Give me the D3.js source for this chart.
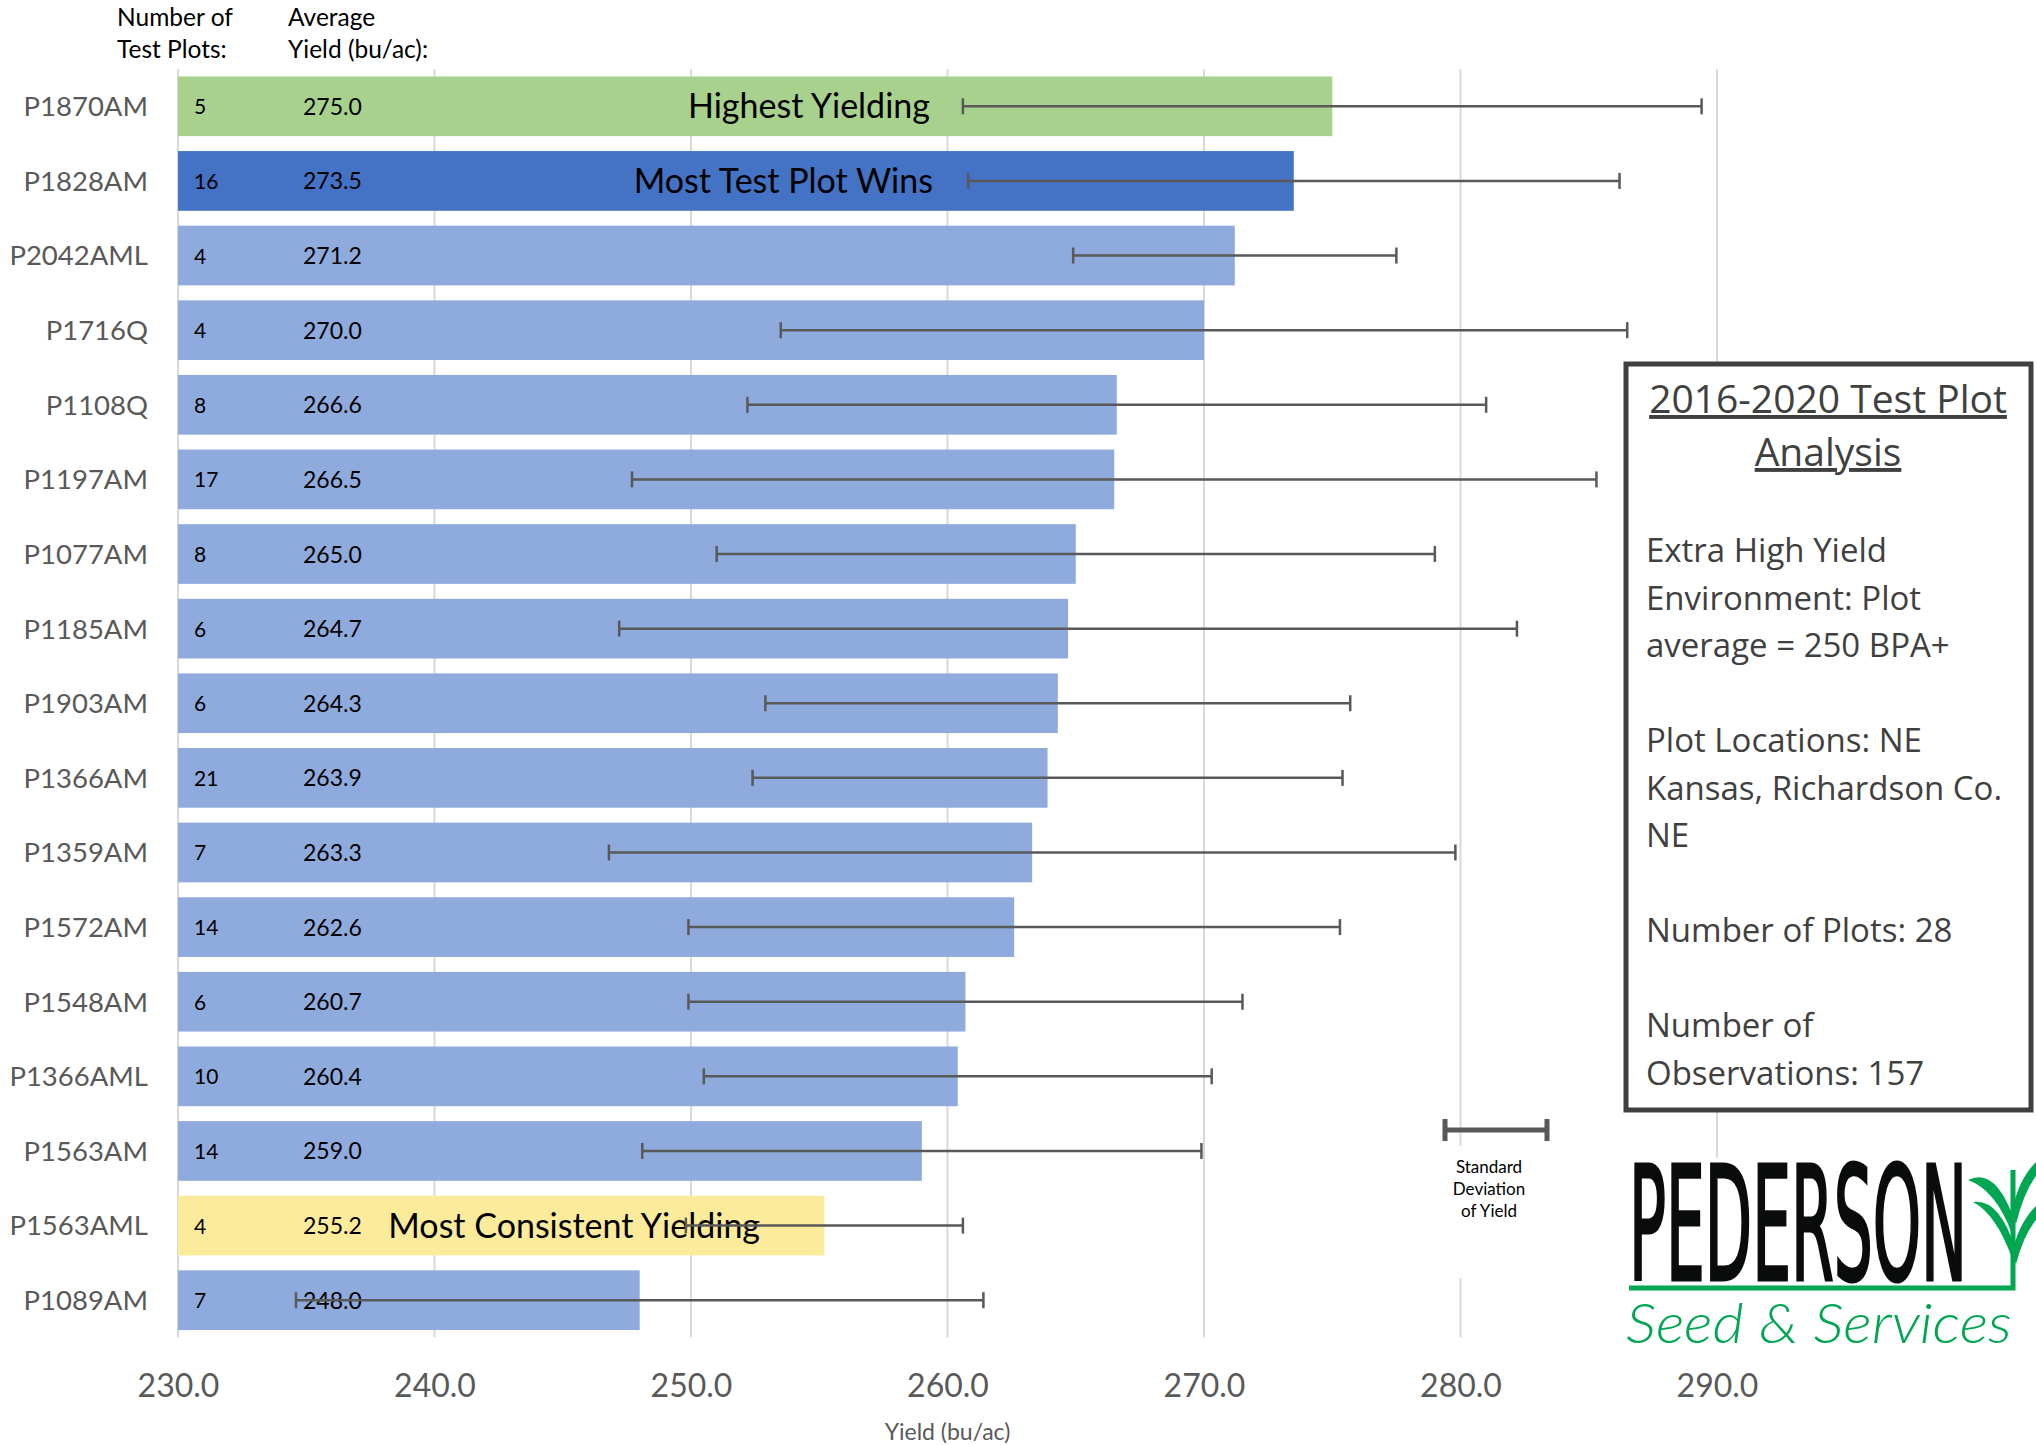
<!DOCTYPE html>
<html>
<head>
<meta charset="utf-8">
<script src="https://cdn.jsdelivr.net/npm/d3@7"></script>
<style>
  html, body { margin: 0; padding: 0; background: #fff; }
  svg { display: block; }
</style>
</head>
<body>
<svg id="chart" width="2036" height="1445"></svg>
<script>
// Data
const hybrids = ['P1870AM', 'P1828AM', 'P2042AML', 'P1716Q', 'P1108Q', 'P1197AM', 'P1077AM', 'P1185AM',
    'P1903AM', 'P1366AM', 'P1359AM', 'P1572AM', 'P1548AM', 'P1366AML', 'P1563AM', 'P1563AML', 'P1089AM'];
const testPlots = [5, 16, 4, 4, 8, 17, 8, 6, 6, 21, 7, 14, 6, 10, 14, 4, 7];
const avgYield = [275.0, 273.5, 271.2, 270.0, 266.6, 266.5, 265.0, 264.7, 264.3, 263.9, 263.3, 262.6, 260.7, 260.4, 259.0, 255.2, 248.0];
const stdDev = [14.4, 12.7, 6.3, 16.5, 14.4, 18.8, 14.0, 17.5, 11.4, 11.5, 16.5, 12.7, 10.8, 9.9, 10.9, 5.4, 13.4];
const groups = ['highest', 'wins', 'other', 'other', 'other', 'other', 'other', 'other',
    'other', 'other', 'other', 'other', 'other', 'other', 'other', 'consistent', 'other'];
const callouts = [
    { row: 'P1870AM', text: 'Highest Yielding', at: 254.6, anchor: 'middle' },
    { row: 'P1828AM', text: 'Most Test Plot Wins', at: 253.6, anchor: 'middle' },
    { row: 'P1563AML', text: 'Most Consistent Yielding', at: 238.2, anchor: 'start' }
];
const xTicks = [230, 240, 250, 260, 270, 280, 290];
const boxTitle = ['2016-2020 Test Plot', 'Analysis'];
const boxLines = ['Extra High Yield', 'Environment: Plot', 'average = 250 BPA+', '',
    'Plot Locations: NE', 'Kansas, Richardson Co.', 'NE', '',
    'Number of Plots: 28', '', 'Number of', 'Observations: 157'];

const FONT = 'Lato, "Open Sans", sans-serif';
const BOX_FONT = '"Open Sans", "Noto Sans", sans-serif';
const GRID = '#d9d9d9';
const GREY_TEXT = '#595959';
const ERR = '#595959';
const GREEN_LOGO = '#00a651';

const rows = hybrids.map((h, i) => ({
    name: h, plots: testPlots[i], value: avgYield[i], sd: stdDev[i], group: groups[i]
}));

const svg = d3.select('#chart');

const x = d3.scaleLinear().domain([230, 290]).range([178, 1717]);
const y = d3.scaleBand().domain(hybrids).range([69, 1337.5]).paddingInner(0.2).paddingOuter(0.1);
const color = d3.scaleOrdinal()
    .domain(['highest', 'wins', 'other', 'consistent'])
    .range(['#a9d18e', '#4472c4', '#8faadc', '#fdeb9c']);

// Gridlines
svg.append('g')
    .selectAll('line')
    .data(xTicks)
    .join('line')
    .attr('x1', (d) => x(d)).attr('x2', (d) => x(d))
    .attr('y1', y.range()[0]).attr('y2', y.range()[1])
    .attr('stroke', GRID)
    .attr('stroke-width', 2);

// Bars
svg.append('g')
    .selectAll('rect')
    .data(rows)
    .join('rect')
    .attr('x', x(230))
    .attr('y', (d) => y(d.name))
    .attr('width', (d) => x(d.value) - x(230))
    .attr('height', y.bandwidth())
    .attr('fill', (d) => color(d.group));

// Inner labels: plot count and yield
const inner = svg.append('g').attr('font-family', FONT).attr('fill', '#000');
inner.selectAll('text.count')
    .data(rows)
    .join('text')
    .attr('class', 'count')
    .attr('x', 194)
    .attr('y', (d) => y(d.name) + y.bandwidth() / 2 + 8)
    .attr('font-size', 21)
    .text((d) => d.plots);
inner.selectAll('text.value')
    .data(rows)
    .join('text')
    .attr('class', 'value')
    .attr('x', 303)
    .attr('y', (d) => y(d.name) + y.bandwidth() / 2 + 8.5)
    .attr('font-size', 23)
    .text((d) => d3.format('.1f')(d.value));

// Callouts
svg.append('g')
    .selectAll('text')
    .data(callouts)
    .join('text')
    .attr('x', (d) => x(d.at))
    .attr('y', (d) => y(d.row) + y.bandwidth() / 2 + 12)
    .attr('text-anchor', (d) => d.anchor)
    .attr('font-family', FONT)
    .attr('font-size', 34)
    .attr('fill', '#000')
    .text((d) => d.text);

// Error bars
const err = svg.append('g').attr('stroke', ERR).attr('stroke-width', 2.5).attr('fill', 'none');
rows.forEach((d) => {
    const cy = y(d.name) + y.bandwidth() / 2;
    const x0 = x(d.value - d.sd), x1 = x(d.value + d.sd);
    err.append('line').attr('x1', x0).attr('x2', x1).attr('y1', cy).attr('y2', cy);
    err.append('line').attr('x1', x0).attr('x2', x0).attr('y1', cy - 8).attr('y2', cy + 8);
    err.append('line').attr('x1', x1).attr('x2', x1).attr('y1', cy - 8).attr('y2', cy + 8);
});

// Category labels
svg.append('g')
    .attr('transform', 'translate(' + (x(230) - 30) + ',0)')
    .call(d3.axisLeft(y).tickSize(0).tickPadding(0))
    .call((g) => g.select('.domain').remove())
    .selectAll('text')
    .attr('font-family', FONT)
    .attr('font-size', 27.5)
    .attr('fill', GREY_TEXT)
    .attr('dy', '0.36em');

// X axis tick labels
svg.append('g')
    .attr('transform', 'translate(0,' + 1370 + ')')
    .call(d3.axisBottom(x).tickValues(xTicks).tickFormat(d3.format('.1f')).tickSize(0).tickPadding(0))
    .call((g) => g.select('.domain').remove())
    .selectAll('text')
    .attr('font-family', FONT)
    .attr('font-size', 32)
    .attr('fill', GREY_TEXT)
    .attr('dy', '0.85em');

svg.append('text')
    .attr('x', (x.range()[0] + x.range()[1]) / 2)
    .attr('y', 1440)
    .attr('text-anchor', 'middle')
    .attr('font-family', FONT)
    .attr('font-size', 23)
    .attr('fill', GREY_TEXT)
    .text('Yield (bu/ac)');

// Column headers
const head = svg.append('g').attr('font-family', FONT).attr('font-size', 24.5).attr('fill', '#000');
[['Number of', 'Test Plots:', 117], ['Average', 'Yield (bu/ac):', 288]].forEach(([a, b, hx]) => {
    head.append('text').attr('x', hx).attr('y', 26).text(a);
    head.append('text').attr('x', hx).attr('y', 58).text(b);
});

// Standard deviation key
const key = svg.append('g');
key.append('rect').attr('x', 1425).attr('y', 1146).attr('width', 140).attr('height', 132).attr('fill', '#fff');
key.append('path')
    .attr('d', 'M1445,1119V1141M1445,1130H1547M1547,1119V1141')
    .attr('stroke', ERR).attr('stroke-width', 5).attr('fill', 'none');
['Standard', 'Deviation', 'of Yield'].forEach((t, i) => {
    key.append('text')
        .attr('x', 1489).attr('y', 1173 + i * 22)
        .attr('text-anchor', 'middle')
        .attr('font-family', FONT).attr('font-size', 17).attr('fill', '#000')
        .text(t);
});

// Info box
const box = svg.append('g');
box.append('rect')
    .attr('x', 1626).attr('y', 364).attr('width', 405).attr('height', 746)
    .attr('fill', '#fff').attr('stroke', '#404040').attr('stroke-width', 5);
boxTitle.forEach((t, i) => {
    box.append('text')
        .attr('x', 1828).attr('y', 413 + i * 53)
        .attr('text-anchor', 'middle')
        .attr('font-family', BOX_FONT).attr('font-size', 39).attr('fill', '#404040')
        .attr('text-decoration', 'underline')
        .text(t);
});
boxLines.forEach((t, i) => {
    if (!t) return;
    box.append('text')
        .attr('x', 1646).attr('y', 562 + i * 47.5)
        .attr('font-family', BOX_FONT).attr('font-size', 33).attr('fill', '#404040')
        .text(t);
});

// Logo
const logo = svg.append('g');
logo.append('rect').attr('x', 1615).attr('y', 1158).attr('width', 421).attr('height', 200).attr('fill', '#fff');

// squeeze a text horizontally to a given width (keeps its box inside the page)
function fitWidth(sel, x0, baseline, width) {
    const w = sel.node().getComputedTextLength();
    sel.attr('x', 0).attr('y', 0)
        .attr('transform', 'translate(' + x0 + ',' + baseline + ') scale(' + (width / w) + ',1)');
}

const brand = logo.append('text')
    .attr('font-family', '"DejaVu Sans Condensed", "DejaVu Sans", sans-serif')
    .attr('font-size', 158)
    .attr('fill', '#0a0c0c')
    .attr('stroke', '#0a0c0c')
    .attr('stroke-width', 2.5)
    .attr('vector-effect', 'non-scaling-stroke')
    .text('PEDERSON');
fitWidth(brand, 1629, 1280, 338);

logo.append('path')
    .attr('d', 'M1629,1288H2013V1170')
    .attr('stroke', GREEN_LOGO).attr('stroke-width', 5).attr('fill', 'none');
// corn leaves
[
    'M1968,1180Q1996,1166 2015,1222L2012,1234Q1996,1190 1968,1180Z',
    'M1973,1202Q1999,1198 2015,1248L2012,1258Q1996,1214 1973,1202Z',
    'M2012,1212Q2018,1180 2036,1162L2036,1176Q2024,1192 2016,1224Z',
    'M2012,1254Q2018,1224 2036,1206L2036,1220Q2024,1234 2016,1264Z'
].forEach((p) => logo.append('path').attr('d', p).attr('fill', GREEN_LOGO));

const tagline = logo.append('text')
    .attr('font-family', FONT)
    .attr('font-style', 'italic')
    .attr('font-weight', 300)
    .attr('font-size', 56)
    .attr('fill', GREEN_LOGO)
    .text('Seed & Services');
fitWidth(tagline, 1626, 1343, 386);
</script>
</body>
</html>
